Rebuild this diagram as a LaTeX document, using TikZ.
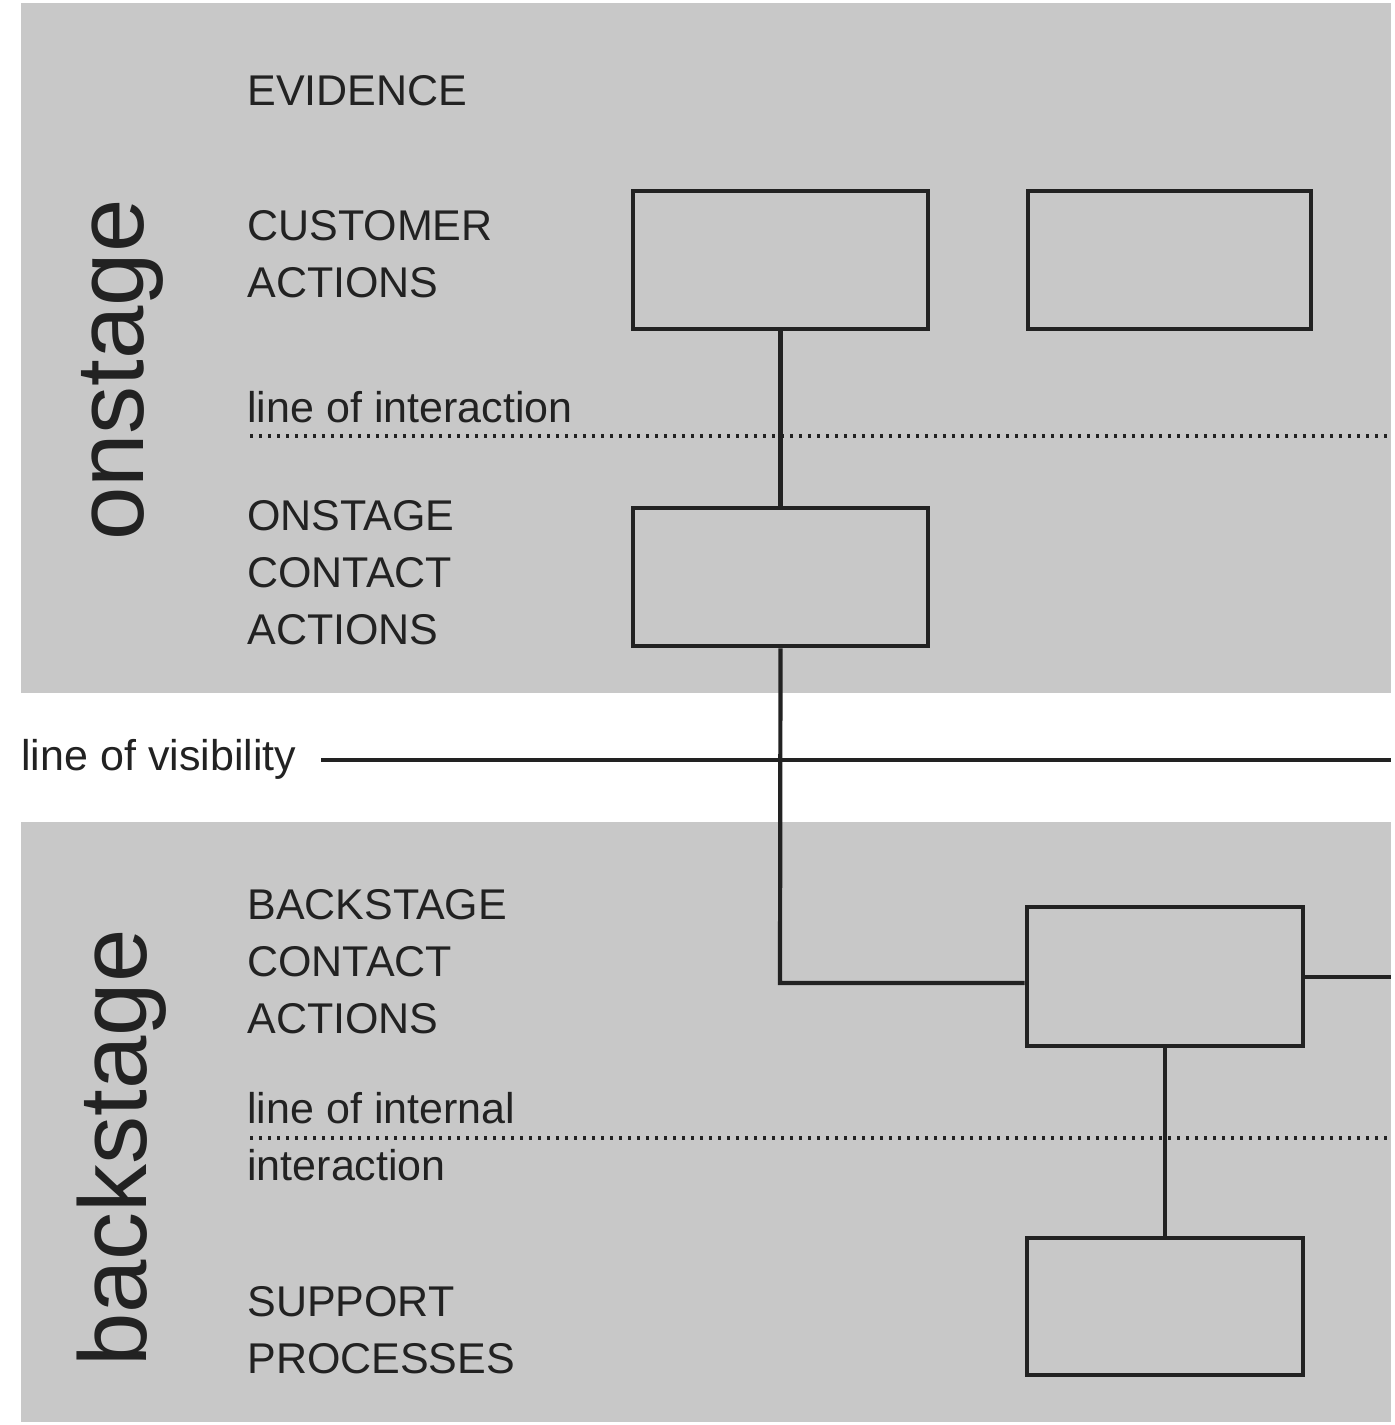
\documentclass[tikz,border=0pt]{standalone}
\usepackage{fontspec}
\setmainfont{Liberation Sans}
\definecolor{panel}{HTML}{C8C8C8}
\definecolor{ink}{HTML}{222222}
\begin{document}
\begin{tikzpicture}[x=0.5pt,y=-0.5pt,
  panelbox/.style={fill=panel,draw=none},
  stepbox/.style={draw=ink,line width=2.3pt,fill=panel,minimum width=#1*0.5pt,inner sep=0pt},
  lbl/.style={anchor=north west,inner sep=0pt,align=left,text=ink,
    font=\fontsize{21.5pt}{28.6pt}\selectfont},
  big/.style={rotate=90,inner sep=0pt,text=ink,font=\fontsize{48pt}{50pt}\selectfont},
  conn/.style={draw=ink,line width=2.1pt},
  dotline/.style={draw=ink,line width=1.6pt,dash pattern=on 1.6pt off 2.9pt},
  visline/.style={draw=ink,line width=2pt}]
\useasboundingbox (0,0) rectangle (1395,1425);
\fill[white] (0,0) rectangle (1395,1425);
% panels
\path[panelbox] (21,3) rectangle (1391,693);
\path[panelbox] (21,822) rectangle (1391,1422);
% rotated labels
\node[big] (on) at (122,370) {onstage};
\node[big] (back) at (122,1148) {backstage};
% row labels
\node[lbl] (ev) at (247,75) {EVIDENCE};
\node[lbl] (ca) at (247,210) {CUSTOMER\\ACTIONS};
\node[lbl] (loi) at (247,391) {line of interaction};
\node[lbl] (oc) at (247,500) {ONSTAGE\\CONTACT\\ACTIONS};
\node[lbl,anchor=west] (lov) at (21,759) {line of visibility};
\node[lbl] (bc) at (247,889) {BACKSTAGE\\CONTACT\\ACTIONS};
\node[lbl] (lii) at (247,1092) {line of internal\\interaction};
\node[lbl] (sp) at (247,1286) {SUPPORT\\PROCESSES};
% lines
\coordinate (dl1) at (250,436);
\coordinate (dr1) at (1391,436);
\path[dotline] (dl1) -- (dr1);
\coordinate (dl2) at (250,1138);
\coordinate (dr2) at (1391,1138);
\path[dotline] (dl2) -- (dr2);
\coordinate (vl) at (321,760);
\coordinate (vr) at (1391,760);
\path[visline] (vl) -- (vr);
% boxes
\node[stepbox=295,minimum height=138*0.5pt] (b1) at (780.5,260) {};
\node[stepbox=283,minimum height=138*0.5pt] (b2) at (1169.5,260) {};
\node[stepbox=295,minimum height=138*0.5pt] (b3) at (780.5,577) {};
\node[stepbox=276,minimum height=139*0.5pt] (b4) at (1165,976.5) {};
\node[stepbox=276,minimum height=137*0.5pt] (b5) at (1165,1306.5) {};
% connectors
\coordinate (bend) at (780,983);
\coordinate (rend) at (1391,977);
\path[conn] (b1.south) -- (b3.north);
\path[conn] (b3.south) -- (bend) -- (b4.west |- bend);
\path[conn] (b4.east |- rend) -- (rend);
\path[conn] (b4.south) -- (b5.north);
\end{tikzpicture}
\end{document}
